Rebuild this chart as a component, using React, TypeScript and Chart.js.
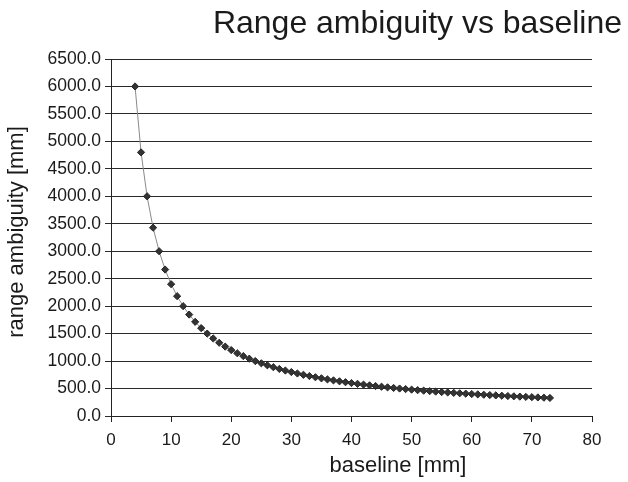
import React, { useEffect, useRef } from "react";
import { Chart, registerables } from "chart.js";

Chart.register(...registerables);

const TITLE = "Range ambiguity vs baseline";
const X_TITLE = "baseline [mm]";
const Y_TITLE = "range ambiguity [mm]";

const baseline = [
  4, 5, 6, 7, 8, 9, 10, 11, 12, 13, 14, 15, 16, 17, 18, 19, 20, 21, 22, 23,
  24, 25, 26, 27, 28, 29, 30, 31, 32, 33, 34, 35, 36, 37, 38, 39, 40, 41, 42,
  43, 44, 45, 46, 47, 48, 49, 50, 51, 52, 53, 54, 55, 56, 57, 58, 59, 60, 61,
  62, 63, 64, 65, 66, 67, 68, 69, 70, 71, 72, 73,
];

const rangeAmbiguity = [
  6000.0, 4800.0, 4000.0, 3428.6, 3000.0, 2666.7, 2400.0, 2181.8, 2000.0,
  1846.2, 1714.3, 1600.0, 1500.0, 1411.8, 1333.3, 1263.2, 1200.0, 1142.9,
  1090.9, 1043.5, 1000.0, 960.0, 923.1, 888.9, 857.1, 827.6, 800.0, 774.2,
  750.0, 727.3, 705.9, 685.7, 666.7, 648.6, 631.6, 615.4, 600.0, 585.4, 571.4,
  558.1, 545.5, 533.3, 521.7, 510.6, 500.0, 489.8, 480.0, 470.6, 461.5, 452.8,
  444.4, 436.4, 428.6, 421.1, 413.8, 406.8, 400.0, 393.4, 387.1, 381.0, 375.0,
  369.2, 363.6, 358.2, 352.9, 347.8, 342.9, 338.0, 333.3, 328.8,
];

const FONT = "Arial, 'Liberation Sans', sans-serif";
const TEXT_COLOR = "#1a1a1a";

const textPlugin = {
  id: "customTexts",
  afterDraw(chart: any) {
    const ctx = chart.ctx;
    ctx.save();
    ctx.fillStyle = TEXT_COLOR;
    // main title
    ctx.font = `32px ${FONT}`;
    ctx.textAlign = "right";
    ctx.textBaseline = "alphabetic";
    ctx.fillText(TITLE, 622, 33);
    // x title
    ctx.font = `22px ${FONT}`;
    ctx.textAlign = "center";
    ctx.fillText(X_TITLE, 398, 472);
    // y title
    ctx.translate(23, 232);
    ctx.rotate(-Math.PI / 2);
    ctx.fillText(Y_TITLE, 0, 0);
    ctx.restore();
  },
};

export default function App() {
  const ref = useRef<HTMLCanvasElement | null>(null);

  useEffect(() => {
    if (!ref.current) return;
    const points = baseline.map((x, i) => ({ x, y: rangeAmbiguity[i] }));
    const chart = new Chart(ref.current, {
      type: "scatter",
      data: {
        datasets: [
          {
            data: points,
            showLine: true,
            borderColor: "#8a8a8a",
            borderWidth: 1,
            pointStyle: "rectRot",
            pointRadius: 3.6,
            pointBackgroundColor: "#333333",
            pointBorderColor: "#262626",
            pointBorderWidth: 1,
          },
        ],
      },
      options: {
        animation: false,
        responsive: false,
        maintainAspectRatio: false,
        layout: { padding: { top: 59, right: 36, left: 0, bottom: 0 } },
        plugins: {
          legend: { display: false },
          tooltip: { enabled: false },
          title: { display: false },
        },
        scales: {
          x: {
            type: "linear",
            min: 0,
            max: 80,
            afterFit: (scale: any) => {
              scale.height = 66;
            },
            ticks: {
              stepSize: 10,
              color: TEXT_COLOR,
              font: { family: FONT, size: 17 },
              padding: 8,
              maxRotation: 0,
            },
            grid: {
              drawOnChartArea: false,
              drawTicks: true,
              tickLength: 6,
              color: "#222",
            },
            border: { display: true, color: "#222", width: 1 },
          },
          y: {
            type: "linear",
            min: 0,
            max: 6500,
            afterFit: (scale: any) => {
              scale.width = 111;
            },
            ticks: {
              stepSize: 500,
              color: TEXT_COLOR,
              font: { family: FONT, size: 17.5 },
              padding: 4,
              callback: (v: any) => Number(v).toFixed(1),
            },
            grid: {
              drawOnChartArea: true,
              drawTicks: true,
              tickLength: 6,
              color: "#2a2a2a",
              lineWidth: 1,
            },
            border: { display: true, color: "#222", width: 1 },
          },
        },
      },
      plugins: [textPlugin],
    });
    return () => chart.destroy();
  }, []);

  return (
    <div
      style={{
        position: "fixed",
        left: 0,
        top: 0,
        width: 628,
        height: 482,
        background: "#fff",
      }}
    >
      <canvas ref={ref} width={628} height={482} style={{ display: "block" }} />
    </div>
  );
}
